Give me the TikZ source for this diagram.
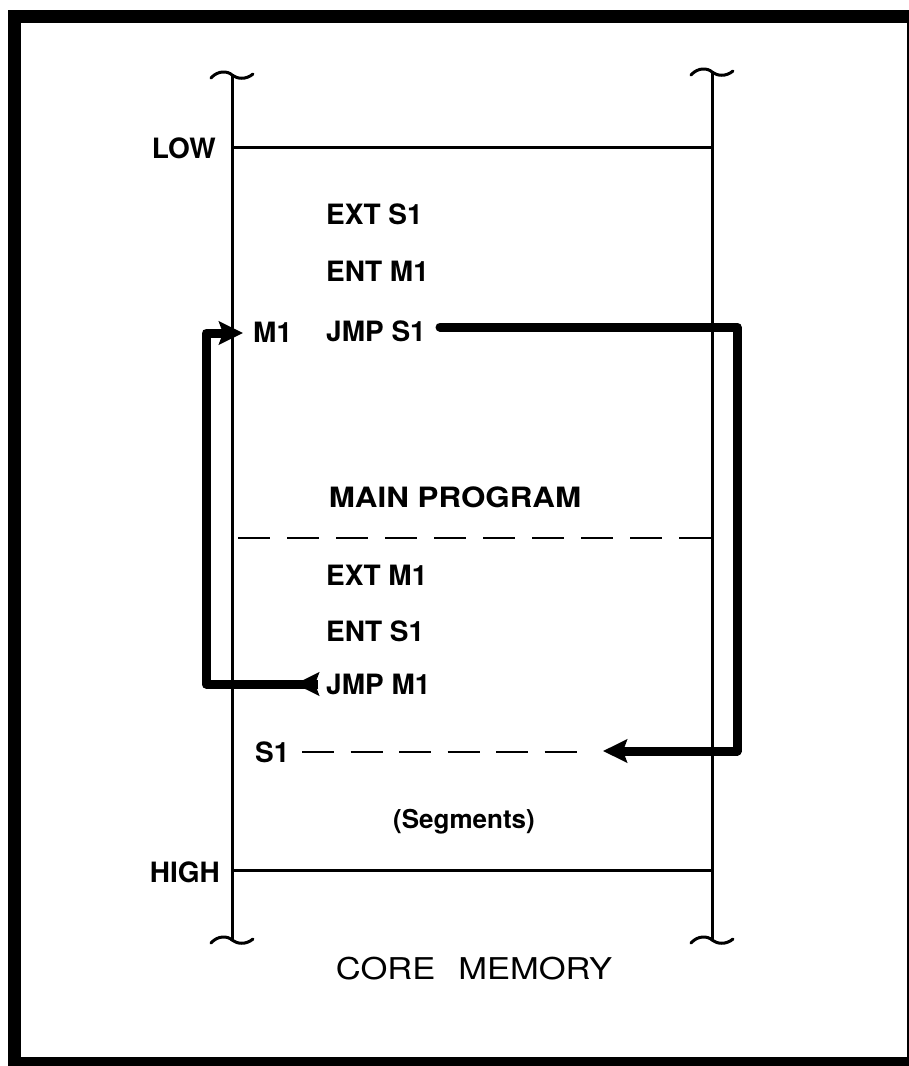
\documentclass[tikz,border=0pt]{standalone}
\usepackage{fontspec}
\setmainfont{TeX Gyre Heros}
\usetikzlibrary{arrows.meta}
\tikzset{
  frame/.style={line width=13pt},
  memline/.style={line width=3pt},
  thickline/.style={line width=9pt, line cap=round, line join=round},
  dashline/.style={line width=2.6pt, dash pattern=on 32pt off 17pt},
  txt/.style={font=\fontsize{28}{32}\selectfont\bfseries, inner sep=0pt, anchor=west},
  bigtip/.tip={Stealth[length=24pt, width=23pt, inset=4pt]},
  brk/.style={line width=3pt, line cap=round}
}
\begin{document}
\begin{tikzpicture}[x=1pt, y=-1pt]
\useasboundingbox (0,0) rectangle (909,1066);
\clip (0,0) rectangle (909,1066);
\fill[white] (0,0) rectangle (909,1066);
% outer frame
\draw[frame] (14,16.5) rectangle (913.5,1063.5);

% memory column
\coordinate (ltop) at (232,76);
\coordinate (lbot) at (232,940);
\coordinate (rtop) at (712,73);
\coordinate (rbot) at (712,940);
\draw[memline] (ltop) -- (lbot);
\draw[memline] (rtop) -- (rbot);
% break marks
\draw[brk] (211,78) .. controls (218,70) and (228,71) .. (232,75) .. controls (237,79) and (246,80) .. (253,74);
\draw[brk] (691,75) .. controls (698,67) and (708,68) .. (712,72) .. controls (717,76) and (726,77) .. (733,71);
\draw[brk] (211,943) .. controls (218,935) and (228,936) .. (232,940) .. controls (237,944) and (246,945) .. (253,939);
\draw[brk] (691,943) .. controls (698,935) and (708,936) .. (712,940) .. controls (717,944) and (726,945) .. (733,939);

% LOW / HIGH
\coordinate (lowL) at (232,147);
\coordinate (lowR) at (712,147);
\coordinate (highL) at (232,870);
\coordinate (highR) at (712,870);
\draw[memline] (lowL) -- (lowR);
\draw[memline] (highL) -- (highR);
\node[txt, anchor=east] (low) at (216,148) {LOW};
\node[txt, anchor=east] (high) at (220,872) {HIGH};

% segment divider
\coordinate (divL) at (232,538);
\coordinate (divR) at (712,538);
\draw[dashline, dash phase=43pt] (divL) -- (divR);

% texts
\node[txt] (ext1) at (326,214) {EXT S1};
\node[txt] (ent1) at (326,271) {ENT M1};
\node[txt] (jmps1) at (326,331) {JMP S1};
\node[txt] (m1) at (253,332) {M1};
\node[txt, anchor=center] (main) at (455,497) {\scalebox{1.12}[1]{MAIN PROGRAM}};
\node[txt] (ext2) at (326,575) {EXT M1};
\node[txt] (ent2) at (326,631) {ENT S1};
\node[txt] (jmpm1) at (326,684) {JMP M1};
\node[txt] (s1) at (255,752) {S1};
\node[txt, anchor=center, font=\fontsize{26}{30}\selectfont\bfseries] (seg) at (464,822) {(Segments)};
\node[inner sep=0pt, font=\fontsize{30}{34}\selectfont] (core) at (474,969) {\scalebox{1.15}[1]{CORE\hspace{20pt}MEMORY}};

% S1 dashed entry line
\coordinate (s1a) at (302,752);
\coordinate (s1b) at (578,752);
\draw[dashline, dash pattern=on 32pt off 16.5pt] (s1a) -- (s1b);

% connector JMP S1 -> S1
\coordinate (dotS) at (440,327);
\coordinate (rc1) at (737,327);
\coordinate (rc2) at (737,751);
\coordinate (tipS1) at (603,751);
\draw[thickline, -{bigtip}] (dotS) -- (rc1) -- (rc2) -- (tipS1);

% connector JMP M1 -> M1
\coordinate (jm) at (318,684);
\coordinate (jmtip) at (295,684);
\coordinate (lc1) at (206,684);
\coordinate (lc2) at (206,333);
\coordinate (tipM1) at (243,333);
\draw[thickline, line cap=butt, -{bigtip}] (jm) -- (lc1) -- (lc2) -- (tipM1);
\draw[thickline, line cap=butt, -{bigtip}] (jm) -- (jmtip);
\end{tikzpicture}
\end{document}
